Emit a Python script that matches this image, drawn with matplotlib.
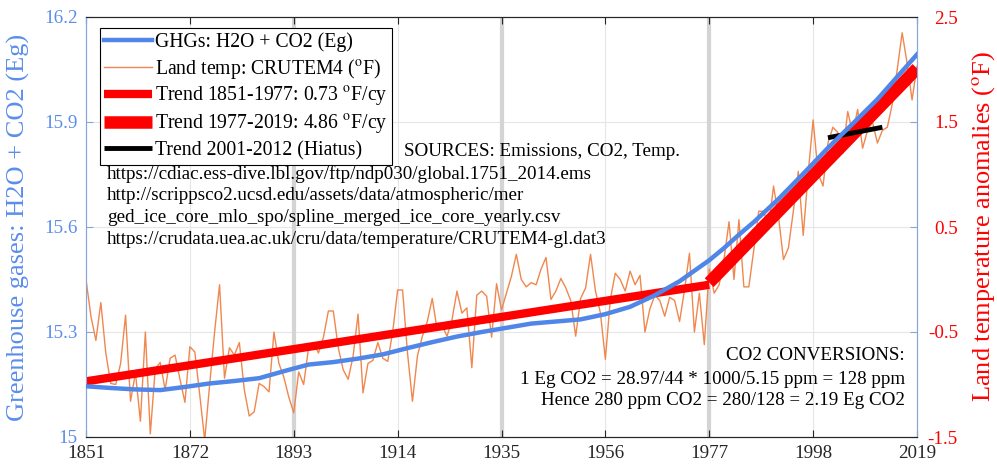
import matplotlib
matplotlib.use("Agg")
import matplotlib.pyplot as plt
import numpy as np

plt.rcParams['font.family'] = ['Liberation Serif', 'DejaVu Serif']
plt.rcParams['mathtext.fontset'] = 'stix'
plt.rcParams['axes.unicode_minus'] = False

# ---------------- data ----------------
temp_start_year = 1851
land_temp_F = [
    0.00, -0.35, -0.58, -0.22, -0.70, -0.99, -1.00, -0.80, -0.34,            # 1851-1859
    -1.16, -0.89, -1.35, -0.50, -1.47, -0.85, -0.79, -1.05, -0.75, -0.72,    # 1860s
    -0.95, -1.17, -0.64, -0.69, -1.10, -1.53, -1.00, -0.50, -0.05, -0.94,    # 1870s
    -0.65, -0.72, -0.60, -1.05, -1.30, -1.26, -0.99, -1.02, -1.07, -0.50,    # 1880s
    -0.80, -0.93, -1.12, -1.27, -0.88, -1.00, -0.65, -0.60, -0.70, -0.55,    # 1890s
    -0.30, -0.30, -0.65, -0.86, -0.95, -0.73, -0.33, -1.08, -0.80, -0.77,    # 1900s
    -0.60, -0.75, -0.78, -0.50, -0.10, -0.10, -0.70, -1.16, -0.73, -0.54,    # 1910s
    -0.40, -0.18, -0.48, -0.44, -0.54, -0.38, -0.11, -0.32, -0.27, -0.84,    # 1920s
    -0.15, -0.11, -0.16, -0.55, -0.04, -0.29, -0.13, 0.03, 0.24, 0.00,       # 1930s
    -0.07, -0.03, -0.05, 0.10, 0.21, -0.19, -0.11, 0.01, -0.08, -0.20,       # 1940s
    -0.54, -0.18, -0.08, 0.24, -0.11, -0.32, -0.76, -0.19, 0.06, 0.00,       # 1950s
    -0.11, 0.08, -0.05, 0.04, -0.50, -0.28, -0.15, -0.20, -0.35, -0.17,      # 1960s
    -0.20, -0.40, -0.10, 0.25, -0.50, -0.13, -0.62, 0.10, -0.13, -0.05,      # 1970s
    0.20, 0.55, 0.00, 0.57, -0.07, -0.07, 0.28, 0.65, 0.65, 0.50,            # 1980s
    0.89, 0.60, 0.19, 0.30, 0.65, 1.03, 0.42, 1.01, 1.52, 1.01,              # 1990s
    0.89, 1.30, 1.45, 1.40, 1.20, 1.60, 1.39, 1.62, 1.25, 1.42,              # 2000s
    1.50, 1.30, 1.42, 1.45, 1.67, 2.00, 2.35, 2.06, 1.71, 2.03,              # 2010s
]
temp_years = np.arange(temp_start_year, temp_start_year + len(land_temp_F))

ghg_years = [1851, 1856, 1861, 1866, 1871, 1876, 1881, 1886, 1891, 1896, 1901,
             1906, 1911, 1916, 1921, 1926, 1931, 1936, 1941, 1946, 1951, 1956,
             1961, 1966, 1971, 1974, 1977, 1980, 1983, 1986, 1991, 1996, 2001,
             2006, 2011, 2016, 2019]
ghg_Eg = [15.145, 15.140, 15.136, 15.134, 15.143, 15.153, 15.160, 15.168,
          15.188, 15.207, 15.214, 15.224, 15.236, 15.254, 15.271, 15.287,
          15.300, 15.312, 15.324, 15.330, 15.336, 15.351, 15.372, 15.405,
          15.445, 15.475, 15.505, 15.540, 15.578, 15.614, 15.680, 15.752,
          15.826, 15.895, 15.965, 16.045, 16.093]

trend1_years = [1851, 1977]
trend1_F = [-0.97, -0.05]
trend2_years = [1977, 2019]
trend2_F = [-0.03, 2.01]
hiatus_years = [2001, 2012]
hiatus_F = [1.35, 1.45]

shaded_years = [1893, 1935, 1977]

x_ticks = [1851, 1872, 1893, 1914, 1935, 1956, 1977, 1998, 2019]
left_ticks = [15, 15.3, 15.6, 15.9, 16.2]
left_ticklabels = ['15', '15.3', '15.6', '15.9', '16.2']
right_ticks = [-1.5, -0.5, 0.5, 1.5, 2.5]
right_ticklabels = ['-1.5', '-0.5', '0.5', '1.5', '2.5']

legend_labels = ['GHGs: H2O + CO2 (Eg)',
                 r'Land temp: CRUTEM4 ($^{\mathrm{o}}$F)',
                 r'Trend 1851-1977: 0.73 $^{\mathrm{o}}$F/cy',
                 r'Trend 1977-2019: 4.86 $^{\mathrm{o}}$F/cy',
                 'Trend 2001-2012 (Hiatus)']

sources_title = 'SOURCES: Emissions, CO2, Temp.'
sources_lines = ['https://cdiac.ess-dive.lbl.gov/ftp/ndp030/global.1751_2014.ems',
                 'http://scrippsco2.ucsd.edu/assets/data/atmospheric/mer',
                 'ged_ice_core_mlo_spo/spline_merged_ice_core_yearly.csv',
                 'https://crudata.uea.ac.uk/cru/data/temperature/CRUTEM4-gl.dat3']
conv_lines = ['CO2 CONVERSIONS:',
              '1 Eg CO2 = 28.97/44 * 1000/5.15 ppm = 128 ppm',
              'Hence 280 ppm CO2 = 280/128 = 2.19 Eg CO2']

# ---------------- styles ----------------
BLUE = '#4F86E8'
BLUE_LBL = '#5B8DEB'
ORANGE = '#F0874E'
RED = '#FF0000'
SPINE_BLUE = '#8AA6D8'
TXT = 13.7

fig = plt.figure(figsize=(9.97, 4.71), dpi=100)
ax2 = fig.add_axes([86/997, 34/471, 831/997, 420/471])   # temperature (right)
ax = fig.add_axes([86/997, 34/471, 831/997, 420/471], sharex=ax2)  # GHG (left), on top
ax.patch.set_visible(False)
ax.set_zorder(ax2.get_zorder() + 1)

ax2.yaxis.tick_right()
ax2.yaxis.set_label_position('right')

# grid / shading
for yr in shaded_years:
    ax2.axvline(yr, color='#D4D4D4', lw=3.0, zorder=0.5)
for xt in x_ticks[1:-1]:
    ax2.axvline(xt, color='#E6E6E6', lw=0.8, zorder=0.4)
for yt in right_ticks[1:-1]:
    ax2.axhline(yt, color='#E6E6E6', lw=0.8, zorder=0.4)

l_temp, = ax2.plot(temp_years, land_temp_F, color=ORANGE, lw=1.0, zorder=2)
l_t1, = ax2.plot(trend1_years, trend1_F, color=RED, lw=6.0, zorder=3,
                 solid_capstyle='butt')
l_t2, = ax2.plot(trend2_years, trend2_F, color=RED, lw=9.0, zorder=3,
                 solid_capstyle='butt')
l_hi, = ax2.plot(hiatus_years, hiatus_F, color='black', lw=3.5, zorder=4,
                 solid_capstyle='butt')

l_ghg, = ax.plot(ghg_years, ghg_Eg, color=BLUE, lw=3.2, zorder=3)

ax.set_xlim(1851, 2019)
ax.set_ylim(15, 16.2)
ax2.set_ylim(-1.5, 2.5)

ax.set_xticks(x_ticks)
ax.set_xticklabels([str(x) for x in x_ticks])
ax.set_yticks(left_ticks)
ax.set_yticklabels(left_ticklabels)
ax2.set_yticks(right_ticks)
ax2.set_yticklabels(right_ticklabels)

ax.tick_params(axis='x', direction='in', top=True, bottom=True, length=5,
               labelsize=TXT, colors='#262626', labelcolor='#262626', pad=6)
ax.tick_params(axis='y', direction='in', length=5, labelsize=TXT,
               colors=SPINE_BLUE, labelcolor=BLUE_LBL, pad=6)
ax2.tick_params(axis='x', bottom=False, labelbottom=False)
ax2.tick_params(axis='y', direction='in', length=5, labelsize=TXT,
                colors=SPINE_BLUE, labelcolor=RED, pad=29.5)
for lbl in ax2.get_yticklabels():
    lbl.set_horizontalalignment('right')

for a in (ax, ax2):
    a.spines['top'].set_color('#262626')
    a.spines['bottom'].set_color('#262626')
    a.spines['left'].set_color(SPINE_BLUE)
    a.spines['right'].set_color(SPINE_BLUE)

ax.set_ylabel('Greenhouse gases: H2O + CO2 (Eg)', color=BLUE_LBL, fontsize=19)
ax.yaxis.set_label_coords(-0.0676, 0.5)

# right-hand label as a plain rotated text centred at its place
ax2.text(1.0800, 0.5, r'Land temperature anomalies ($^{\mathrm{o}}$F)',
         transform=ax2.transAxes, color=RED, fontsize=19, rotation=90,
         ha='center', va='center')

leg = ax.legend([l_ghg, l_temp, l_t1, l_t2, l_hi], legend_labels,
                loc='upper left', bbox_to_anchor=(0.0168, 0.974),
                borderaxespad=0, fontsize=14.2, frameon=True, fancybox=False,
                edgecolor='black', framealpha=1, handlelength=2.4,
                handletextpad=0.15, labelspacing=0.23, borderpad=0.22)
leg.get_frame().set_linewidth(0.8)
leg.set_zorder(10)

ax.text(0.3827, 0.679, sources_title, transform=ax.transAxes, fontsize=TXT,
        ha='left', va='center', zorder=6)
src_y = [0.627, 0.575, 0.523, 0.471]
for s, yy in zip(sources_lines, src_y):
    ax.text(0.0253, yy, s, transform=ax.transAxes, fontsize=TXT,
            ha='left', va='center', zorder=6)
conv_y = [0.193, 0.136, 0.086]
for s, yy in zip(conv_lines, conv_y):
    ax.text(0.9856, yy, s, transform=ax.transAxes, fontsize=TXT,
            ha='right', va='center', zorder=6)

fig.savefig('out.png', dpi=100)
